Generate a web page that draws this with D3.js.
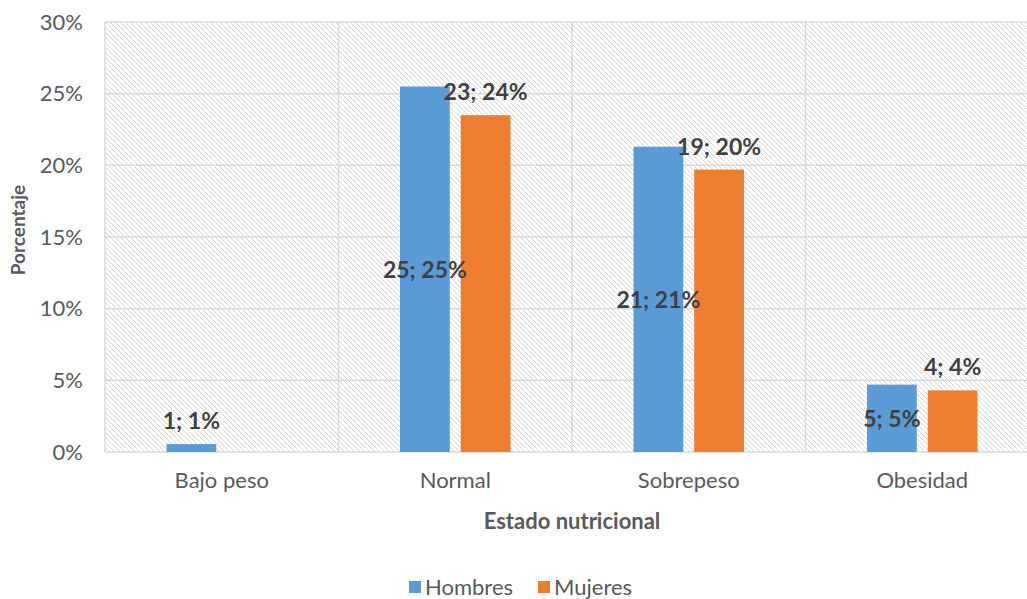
<!DOCTYPE html>
<html><head><meta charset="utf-8">
<script src="https://cdn.jsdelivr.net/npm/d3@7"></script>
<style>body{margin:0;background:#fff;} svg{display:block;}</style>
</head><body>
<svg id="chart" width="1027" height="599"></svg>
<script>
const categories = ["Bajo peso", "Normal", "Sobrepeso", "Obesidad"];
const seriesNames = ["Hombres", "Mujeres"];
const hombres = [0.55, 25.5, 21.3, 4.7];
const mujeres = [0, 23.5, 19.7, 4.3];
const hombresLabels = ["1; 1%", "25; 25%", "21; 21%", "5; 5%"];
const mujeresLabels = [null, "23; 24%", "19; 20%", "4; 4%"];
const hombresLabelPos = ["above", "middle", "middle", "middle"];
const mujeresLabelPos = [null, "above", "above", "above"];
const yTicks = [0, 5, 10, 15, 20, 25, 30];
const colors = ["#5B9BD5", "#ED7D31"];

const FONT = "Lato, 'Open Sans', sans-serif";
const svg = d3.select("#chart");
const m = {left: 105, top: 22, right: -12, bottom: 147};
const W = 1027 - m.left - m.right, H = 599 - m.top - m.bottom;

const defs = svg.append("defs");
const pat = defs.append("pattern").attr("id", "hatch").attr("patternUnits", "userSpaceOnUse")
  .attr("width", 5).attr("height", 5);
pat.append("rect").attr("width", 5).attr("height", 5).attr("fill", "#fff");
pat.append("path").attr("d", "M-1,-1 L6,6 M-1,4 L1,6 M4,-1 L6,1")
  .attr("stroke", "#d6d6d6").attr("stroke-width", 1);

const g = svg.append("g").attr("transform", `translate(${m.left},${m.top})`);
const x0 = d3.scaleBand().domain(categories).range([0, W]).padding(0);
const x1 = d3.scaleBand().domain(seriesNames).range([61.5, x0.bandwidth() - 61.5]).paddingInner(0.18);
const y = d3.scaleLinear().domain([0, 30]).range([H, 0]);

g.append("rect").attr("width", W).attr("height", H).attr("fill", "url(#hatch)");

// horizontal gridlines
g.selectAll(".hg").data(yTicks).enter().append("line")
  .attr("x1", 0).attr("x2", W).attr("y1", d => y(d)).attr("y2", d => y(d))
  .attr("stroke", "#d9d9d9").attr("stroke-width", 1.5);
// vertical gridlines
g.selectAll(".vg").data(d3.range(categories.length + 1)).enter().append("line")
  .attr("x1", i => i * x0.bandwidth()).attr("x2", i => i * x0.bandwidth())
  .attr("y1", 0).attr("y2", H).attr("stroke", "#d9d9d9").attr("stroke-width", 1.5);

// y tick labels
const yAxis = d3.axisLeft(y).tickValues(yTicks).tickFormat(d => d + "%").tickSize(0).tickPadding(22);
const ya = g.append("g").call(yAxis);
ya.select(".domain").remove();
ya.selectAll("text").attr("font-family", FONT).attr("font-size", 22).attr("fill", "#595959");

// x tick labels
const xAxis = d3.axisBottom(x0).tickSize(0).tickPadding(20);
const xa = g.append("g").attr("transform", `translate(0,${H})`).call(xAxis);
xa.select(".domain").remove();
xa.selectAll("text").attr("font-family", FONT).attr("font-size", 22).attr("fill", "#595959");

const series = [hombres, mujeres];
const labels = [hombresLabels, mujeresLabels];
const lpos = [hombresLabelPos, mujeresLabelPos];
series.forEach((vals, si) => {
  const grp = g.append("g");
  grp.selectAll("rect").data(categories).enter().append("rect")
    .attr("x", c => x0(c) + x1(seriesNames[si]))
    .attr("width", x1.bandwidth())
    .attr("y", (c, i) => y(vals[i]))
    .attr("height", (c, i) => H - y(vals[i]))
    .attr("fill", colors[si]);
});
series.forEach((vals, si) => {
  g.append("g").selectAll("text").data(categories).enter()
    .filter((c, i) => labels[si][i] !== null)
    .append("text")
    .attr("x", c => x0(c) + x1(seriesNames[si]) + x1.bandwidth() / 2)
    .attr("y", c => {
      const i = categories.indexOf(c);
      return lpos[si][i] === "above" ? y(vals[i]) - 24 : (y(vals[i]) + H) / 2;
    })
    .attr("text-anchor", "middle").attr("dominant-baseline", "central")
    .attr("font-family", FONT).attr("font-weight", "bold").attr("font-size", 23)
    .attr("fill", "#404040")
    .text(c => labels[si][categories.indexOf(c)]);
});

// axis titles
svg.append("text").attr("transform", `translate(17,230) rotate(-90)`)
  .attr("text-anchor", "middle").attr("dominant-baseline", "central").attr("font-family", FONT).attr("font-weight", "bold")
  .attr("font-size", 19).attr("fill", "#595959").text("Porcentaje");
svg.append("text").attr("x", 572).attr("y", 520).attr("dominant-baseline", "central")
  .attr("text-anchor", "middle").attr("font-family", FONT).attr("font-weight", "bold")
  .attr("font-size", 22).attr("fill", "#595959").text("Estado nutricional");

// legend
const leg = svg.append("g").attr("transform", "translate(409,584)");
const legItems = [{name: "Hombres", x: 0}, {name: "Mujeres", x: 129}];
legItems.forEach((it, i) => {
  leg.append("rect").attr("x", it.x).attr("y", -3).attr("width", 12).attr("height", 12).attr("fill", colors[i]);
  leg.append("text").attr("x", it.x + 16).attr("y", 2).attr("dominant-baseline", "central")
    .attr("font-family", FONT).attr("font-size", 22).attr("fill", "#595959").text(it.name);
});
</script>
</body></html>
